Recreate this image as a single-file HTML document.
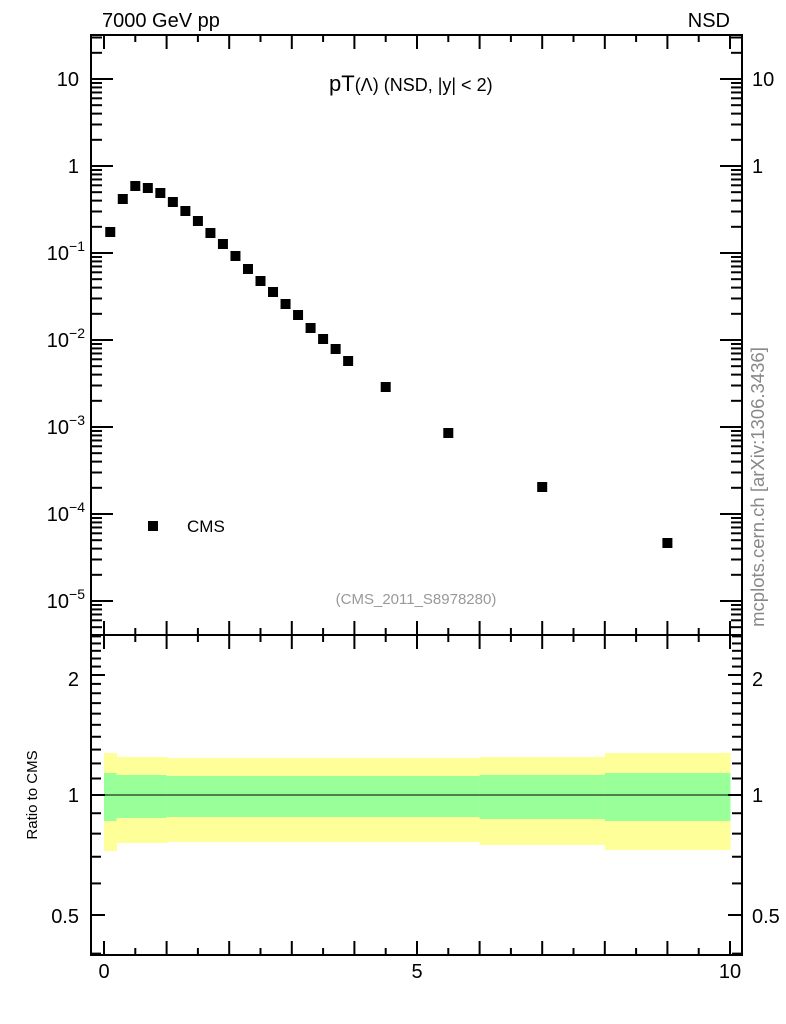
<!DOCTYPE html>
<html><head><meta charset="utf-8">
<style>
html,body{margin:0;padding:0;background:#fff;}
svg{display:block;font-family:"Liberation Sans",sans-serif;}
</style></head>
<body>
<svg id="s" width="786" height="1024" viewBox="0 0 786 1024" xmlns="http://www.w3.org/2000/svg">
<rect width="786" height="1024" fill="#fff"/>
<g id="bands"></g>
<line x1="91" y1="795" x2="742" y2="795" stroke="#000" stroke-width="1"/>
<g id="pts"></g>
<g id="ticks" stroke="#000" stroke-width="2" fill="none"></g>
<rect x="91" y="35" width="651" height="920" fill="none" stroke="#000" stroke-width="2"/>
<line x1="91" y1="635" x2="742" y2="635" stroke="#000" stroke-width="2"/>
<text x="102" y="27" font-size="20">7000 GeV pp</text>
<text x="730" y="27" font-size="20" text-anchor="end">NSD</text>
<text x="329" y="91" font-size="22">pT<tspan font-size="18">(Λ)</tspan><tspan font-size="18"> (NSD, |y| &lt; 2)</tspan></text>
<rect x="148" y="521" width="10" height="10" fill="#000"/>
<text x="187" y="532" font-size="17">CMS</text>
<text x="416" y="604" font-size="15" fill="#999" text-anchor="middle">(CMS_2011_S8978280)</text>
<text transform="translate(764,487) rotate(-90)" font-size="18.5" fill="#888" text-anchor="middle">mcplots.cern.ch [arXiv:1306.3436]</text>
<text transform="translate(37,795) rotate(-90)" font-size="15" text-anchor="middle">Ratio to CMS</text>
<g font-size="20" text-anchor="end">
<text x="79" y="86">10</text>
<text x="79" y="173">1</text>
<text x="79" y="686">2</text>
<text x="79" y="802">1</text>
<text x="79" y="923">0.5</text>
</g>
<g font-size="20">
<text x="752" y="86">10</text>
<text x="752" y="173">1</text>
<text x="752" y="686">2</text>
<text x="752" y="802">1</text>
<text x="752" y="923">0.5</text>
</g>
<g font-size="20" text-anchor="middle">
<text x="104" y="978">0</text>
<text x="417" y="978">5</text>
<text x="730" y="978">10</text>
</g>
<g font-size="20" text-anchor="end">
<text x="85" y="260">10<tspan font-size="14" dy="-9">−1</tspan></text>
<text x="85" y="347">10<tspan font-size="14" dy="-9">−2</tspan></text>
<text x="85" y="434">10<tspan font-size="14" dy="-9">−3</tspan></text>
<text x="85" y="521">10<tspan font-size="14" dy="-9">−4</tspan></text>
<text x="85" y="608">10<tspan font-size="14" dy="-9">−5</tspan></text>
</g>
</svg>
<script>
var NS="http://www.w3.org/2000/svg";
function el(p,t,a,txt){var e=document.createElementNS(NS,t);for(var k in a)e.setAttribute(k,a[k]);if(txt!=null)e.textContent=txt;document.getElementById(p).appendChild(e);return e;}
function X(v){return 104+v*62.6;}
function Y(v){return 166-87*Math.log10(v);}
function R(v){return 795-398.6*Math.log10(v);}
var bins=[[0,0.2,753,851,773,821],[0.2,1.0,757,843,775,818],[1.0,6.0,758,842,776,817],[6.0,8.0,757,845,775,819],[8.0,10,753,850,773,821]];
bins.forEach(function(b){
 el("bands","rect",{x:X(b[0]),y:b[2],width:X(b[1])-X(b[0])+0.5,height:b[3]-b[2],fill:"#ffff99"});
 el("bands","rect",{x:X(b[0]),y:b[4],width:X(b[1])-X(b[0])+0.5,height:b[5]-b[4],fill:"#99ff99"});
});
var py=[232,199,186,188,193,202,211,221,233,244,256,269,281,292,304,315,328,339,349,361];
for(var i=0;i<py.length;i++){var xv=0.1+0.2*i;el("pts","rect",{x:X(xv)-5,y:py[i]-5,width:10,height:10,fill:"#000"});}
[[4.5,387],[5.5,433],[7,487],[9,543]].forEach(function(p){el("pts","rect",{x:X(p[0])-5,y:p[1]-5,width:10,height:10,fill:"#000"});});
for(var i=0;i<=20;i++){var x=X(i*0.5);var L=(i%2==0)?14:7;
 [635,955].forEach(function(yb){el("ticks","line",{x1:x,y1:yb,x2:x,y2:yb-L});});
 el("ticks","line",{x1:x,y1:35,x2:x,y2:35+L});
 el("ticks","line",{x1:x,y1:635,x2:x,y2:635+L});
}
for(var d=-6;d<=1;d++){for(var m=1;m<=9;m++){var v=m*Math.pow(10,d);var y=Y(v);if(y<36||y>634)continue;var L=(m==1)?22:11;
 el("ticks","line",{x1:91,y1:y,x2:91+L,y2:y});el("ticks","line",{x1:742,y1:y,x2:742-L,y2:y});}}
for(var v=0.4;v<=2.5001;v+=0.1){var y=R(v);if(y<636||y>954)continue;var vv=Math.round(v*10)/10;var maj=(vv==0.5||vv==1||vv==2);var L=maj?14:10;
 el("ticks","line",{x1:91,y1:y,x2:91+L,y2:y});el("ticks","line",{x1:742,y1:y,x2:742-L,y2:y});}
</script>
</body></html>
